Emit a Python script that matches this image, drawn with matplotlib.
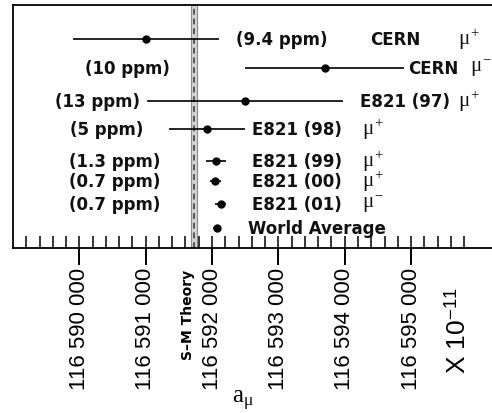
import matplotlib.pyplot as plt
import numpy as np

plt.rcParams['mathtext.fontset'] = 'custom'
plt.rcParams['mathtext.rm'] = 'Liberation Serif'
plt.rcParams['mathtext.it'] = 'Liberation Serif'
plt.rcParams['mathtext.sf'] = 'Liberation Sans'

# datos (a_mu en unidades de 1e-11)
experimentos = ["CERN", "CERN", "E821 (97)", "E821 (98)", "E821 (99)",
                "E821 (00)", "E821 (01)", "World Average"]
cargas = ["+", "-", "+", "+", "+", "+", "-", None]
ppm = ["9.4", "10", "13", "5", "1.3", "0.7", "0.7", None]
valores = [116591000, 116593700, 116592500, 116591920, 116592060,
           116592050, 116592130, 116592080]
errores = [1100, 1200, 1480, 570, 150, 80, 80, 60]
teoria_sm = 116591725
error_sm = 45
ticks_mayores = [116590000, 116591000, 116592000, 116593000, 116594000, 116595000]

# disposicion de filas y etiquetas
fila = [1.0, 2.0, 3.14, 4.10, 5.21, 5.90, 6.69, 7.52]
ppm_x = [116592365, 116591370, 116590920, 116590960, 116591220,
         116591220, 116591220, None]
ppm_ha = ["left", "right", "right", "right", "right", "right", "right", None]
nombre_x = [116594380, 116594955, 116594230, 116592605, 116592605,
            116592605, 116592605, 116592545]
mu_x = [116595710, 116595890, 116595710, 116594260, 116594260,
        116594260, 116594260, None]

fig = plt.figure(figsize=(4.92, 4.14), dpi=100)
ax = fig.add_axes([13 / 492, 165 / 414, 479 / 492, 243 / 414])

# banda teorica
ax.axvspan(teoria_sm - error_sm, teoria_sm + error_sm, facecolor="#d4d4d4",
           edgecolor="#8a8a8a", linewidth=0.8, zorder=1)
ax.axvline(teoria_sm, color="#555555", linewidth=1.4, dashes=(3, 2), zorder=2)

# medidas
ax.errorbar(valores, fila, xerr=errores, fmt="o", color="black", ms=5,
            elinewidth=1.2, capsize=0, zorder=3)

for i in range(len(valores)):
    if ppm[i] is not None:
        ax.text(ppm_x[i], fila[i], "(" + ppm[i] + " ppm)", ha=ppm_ha[i],
                va="center", fontsize=12, fontweight="bold", color="#111111")
    ax.text(nombre_x[i], fila[i], experimentos[i], ha="left", va="center",
            fontsize=12, fontweight="bold", color="#111111")
    if cargas[i] is not None:
        ax.text(mu_x[i], fila[i] - 0.02, r"$\mu^{" + cargas[i] + "}$",
                ha="left", va="center", fontsize=15, color="#111111")

ax.set_ylim(8.21, -0.17)
ax.set_xlim(116589000, 116596220)
ax.set_yticks([])

ax.set_xticks(ticks_mayores)
ax.set_xticklabels([f"{t:,}".replace(",", " ") for t in ticks_mayores],
                   fontsize=16, fontfamily="Liberation Sans", rotation=90)
ax.set_xticks(np.arange(116589200, 116595900, 200), minor=True)
ax.xaxis.remove_overlapping_locs = False
ax.tick_params(axis="x", which="major", direction="out", length=12.5,
               width=1.4, pad=1)
ax.tick_params(axis="x", which="minor", direction="in", length=8.5,
               width=1.1)

for s in ["left", "top", "bottom"]:
    ax.spines[s].set_linewidth(1.3)
ax.spines["right"].set_visible(False)

ax.annotate("S\u2013M Theory", xy=(teoria_sm, 0), xycoords=("data", "axes fraction"),
            xytext=(-4, -15), textcoords="offset points", rotation=90,
            ha="center", va="top", fontsize=10, fontweight="bold")

ax.set_xlabel(r"$\mathrm{a}_{\mu}$", fontsize=18, va="center")
ax.xaxis.set_label_coords(0.48, -0.625)
ax.text(0.929, -0.335, r"X 10$^{\mathsf{-11}}$", transform=ax.transAxes,
        rotation=90, ha="center", va="center", fontsize=19,
        fontfamily="Liberation Sans")

fig.savefig("out.png", dpi=100)
